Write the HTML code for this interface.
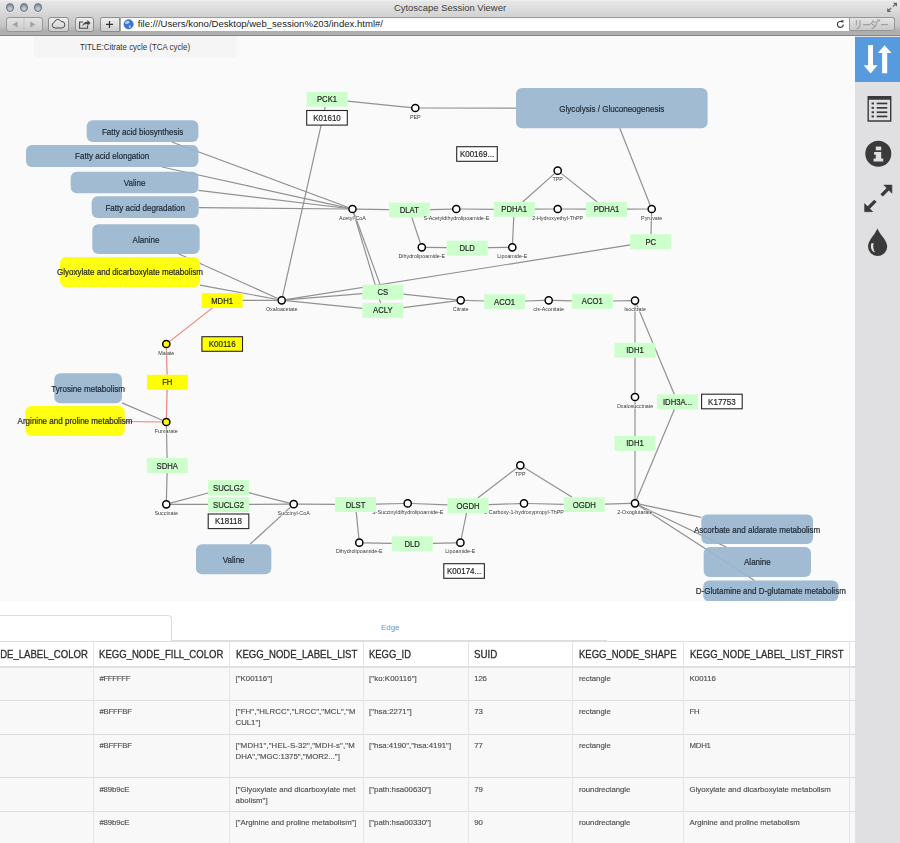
<!DOCTYPE html>
<html>
<head>
<meta charset="utf-8">
<title>Cytoscape Session Viewer</title>
<style>
html,body{margin:0;padding:0;}
body{-webkit-font-smoothing:antialiased;width:900px;height:843px;overflow:hidden;position:relative;background:#fff;font-family:"Liberation Sans",sans-serif;}
#chrome{position:absolute;left:0;top:0;width:900px;height:36.3px;background:linear-gradient(#f2f2f2 0,#e6e6e6 1.5px,#dddddd 9px,#d1d1d1 17px,#c4c4c4 26px,#adadad 31px,#b2b2b2 35px);border-bottom:0.9px solid #858585;box-sizing:border-box;}
#chrome .ttl{position:absolute;left:0;width:900px;top:1px;text-align:center;font-size:9.45px;color:#3c3c3c;line-height:13px;}
.tl{position:absolute;top:3.2px;width:8.6px;height:8.6px;border-radius:50%;background:radial-gradient(circle at 50% 72%,#d0d5dc 0,#aab2be 40%,#858e9b 72%,#747d8a 100%);border:0.9px solid #6c7581;box-sizing:border-box;box-shadow:0 0.6px 0.5px rgba(255,255,255,0.7);}
.btn{position:absolute;top:17px;height:14.5px;border:0.7px solid #8c8c8c;border-radius:3px;background:linear-gradient(#efefef,#cecece);box-sizing:border-box;}
#url{position:absolute;left:119.5px;top:16.6px;width:775px;height:14.6px;border:0.7px solid #a5a5a5;border-top:0.9px solid #9b9b9b;border-bottom:none;border-radius:0 2.5px 2.5px 0;background:linear-gradient(#f4f4f4 0,#fff 2.5px);box-sizing:border-box;}
#url .t{position:absolute;left:17.3px;top:0.1px;font-size:9.55px;line-height:12.5px;color:#222;white-space:nowrap;}
#reader{position:absolute;left:849px;top:17.2px;width:45.5px;height:14px;border:0.7px solid #979797;border-radius:0 2.5px 2.5px 0;background:linear-gradient(#e4e4e4,#c9c9c9);box-sizing:border-box;}
#netbg{position:absolute;left:0;top:36px;width:855px;height:565px;background:#fafafa;}
#titlebox{position:absolute;left:34px;top:36px;width:203px;height:21.5px;background:#f5f5f5;border-radius:0 0 4px 4px;}
#titlebox span{position:absolute;left:46.3px;top:6px;font-size:8.5px;line-height:10px;color:#333;white-space:nowrap;transform-origin:0 50%;transform:scaleX(0.929);}
#net{position:absolute;left:0;top:36px;will-change:transform;}
#side{position:absolute;left:855px;top:36px;width:45px;height:807px;background:#e0e0e2;}
#side .act{position:absolute;left:0;top:1px;width:45px;height:45px;background:#589ade;}
#tabs{position:absolute;left:-10px;top:615px;width:181.5px;height:26px;border:1px solid #ddd;border-bottom:none;border-radius:4px 4px 0 0;box-sizing:border-box;background:#fff;}
#tabline{position:absolute;left:171px;top:640px;width:436px;height:1px;background:#ddd;}
#edge{position:absolute;left:381px;top:623.1px;font-size:7.9px;line-height:10px;color:#6b96d6;}
#tbl{position:absolute;left:0;top:0;width:855px;height:843px;overflow:hidden;will-change:transform;}
#tbl .hbg{position:absolute;left:0;top:641px;width:855px;height:26px;background:#fff;}
#tbl .rbg{position:absolute;left:0;top:667px;width:855px;height:180px;background:#f8f8f8;}
#tbl .hc{position:absolute;font-size:10.7px;line-height:12px;color:#2e2e2e;-webkit-text-stroke:0.3px #2e2e2e;white-space:nowrap;transform-origin:0 50%;}
#tbl .tc{position:absolute;font-size:7.8px;line-height:10px;color:#505050;-webkit-text-stroke:0.15px #505050;white-space:nowrap;}
#tbl .vb{position:absolute;top:641px;width:1.1px;height:210px;background:#e4e4e4;}
#tbl .hb{position:absolute;left:0;width:855px;background:#dfdfdf;}
</style>
</head>
<body>
<div id="netbg"></div>
<div id="titlebox"><span>TITLE:Citrate cycle (TCA cycle)</span></div>
<svg id="net" width="855" height="565" viewBox="0 36 855 565" font-family="Liberation Sans, sans-serif">
<g fill="none" stroke-width="1.2" stroke-linecap="butt">
<line x1="347.4" y1="101.2" x2="411.0" y2="107.6" stroke="#919191"/>
<line x1="419.6" y1="108.0" x2="516.0" y2="108.1" stroke="#919191"/>
<line x1="325.3" y1="106.7" x2="282.6" y2="296.1" stroke="#919191"/>
<line x1="171.8" y1="142.0" x2="348.5" y2="207.5" stroke="#919191"/>
<line x1="162.1" y1="167.0" x2="348.3" y2="208.1" stroke="#919191"/>
<line x1="198.4" y1="190.3" x2="348.2" y2="208.5" stroke="#919191"/>
<line x1="198.7" y1="207.6" x2="348.2" y2="209.0" stroke="#919191"/>
<line x1="356.8" y1="209.1" x2="388.9" y2="209.6" stroke="#919191"/>
<line x1="429.8" y1="209.6" x2="452.0" y2="209.1" stroke="#919191"/>
<line x1="460.6" y1="209.0" x2="493.8" y2="209.3" stroke="#919191"/>
<line x1="534.7" y1="209.2" x2="553.4" y2="209.0" stroke="#919191"/>
<line x1="562.0" y1="209.0" x2="586.0" y2="209.2" stroke="#919191"/>
<line x1="627.0" y1="209.2" x2="647.4" y2="209.0" stroke="#919191"/>
<line x1="554.5" y1="173.6" x2="522.6" y2="202.0" stroke="#919191"/>
<line x1="561.1" y1="173.4" x2="597.1" y2="202.0" stroke="#919191"/>
<line x1="411.8" y1="217.4" x2="420.4" y2="243.2" stroke="#919191"/>
<line x1="426.1" y1="247.4" x2="446.7" y2="247.7" stroke="#919191"/>
<line x1="487.6" y1="247.7" x2="508.0" y2="247.4" stroke="#919191"/>
<line x1="512.5" y1="243.0" x2="513.8" y2="216.8" stroke="#919191"/>
<line x1="619.8" y1="128.3" x2="650.1" y2="205.0" stroke="#919191"/>
<line x1="651.6" y1="213.3" x2="651.0" y2="234.2" stroke="#919191"/>
<line x1="630.3" y1="244.9" x2="285.9" y2="299.6" stroke="#919191"/>
<line x1="354.0" y1="213.0" x2="380.1" y2="284.6" stroke="#919191"/>
<line x1="353.7" y1="213.1" x2="380.6" y2="302.9" stroke="#919191"/>
<line x1="286.0" y1="299.9" x2="362.4" y2="293.7" stroke="#919191"/>
<line x1="286.0" y1="300.7" x2="362.4" y2="308.3" stroke="#919191"/>
<line x1="403.2" y1="294.2" x2="456.4" y2="299.8" stroke="#919191"/>
<line x1="403.2" y1="307.7" x2="456.4" y2="300.8" stroke="#919191"/>
<line x1="465.0" y1="300.4" x2="484.0" y2="301.0" stroke="#919191"/>
<line x1="525.0" y1="301.0" x2="544.4" y2="300.4" stroke="#919191"/>
<line x1="553.0" y1="300.4" x2="571.8" y2="300.9" stroke="#919191"/>
<line x1="612.8" y1="301.0" x2="630.7" y2="300.7" stroke="#919191"/>
<line x1="635.0" y1="304.9" x2="635.0" y2="342.8" stroke="#919191"/>
<line x1="635.0" y1="357.6" x2="635.0" y2="392.7" stroke="#919191"/>
<line x1="635.0" y1="401.3" x2="635.0" y2="435.9" stroke="#919191"/>
<line x1="635.0" y1="450.8" x2="635.0" y2="499.0" stroke="#919191"/>
<line x1="636.7" y1="304.6" x2="674.4" y2="394.4" stroke="#919191"/>
<line x1="674.4" y1="409.2" x2="636.7" y2="499.3" stroke="#919191"/>
<line x1="630.7" y1="503.4" x2="604.8" y2="504.1" stroke="#919191"/>
<line x1="563.8" y1="504.3" x2="528.3" y2="503.5" stroke="#919191"/>
<line x1="519.7" y1="503.6" x2="488.4" y2="504.7" stroke="#919191"/>
<line x1="447.6" y1="504.8" x2="412.0" y2="503.5" stroke="#919191"/>
<line x1="403.4" y1="503.5" x2="375.9" y2="504.1" stroke="#919191"/>
<line x1="335.1" y1="504.4" x2="298.0" y2="504.2" stroke="#919191"/>
<line x1="516.9" y1="467.9" x2="477.7" y2="498.0" stroke="#919191"/>
<line x1="524.0" y1="467.6" x2="572.2" y2="497.2" stroke="#919191"/>
<line x1="356.2" y1="511.9" x2="358.9" y2="538.4" stroke="#919191"/>
<line x1="363.6" y1="542.8" x2="391.8" y2="543.4" stroke="#919191"/>
<line x1="432.6" y1="543.3" x2="456.1" y2="542.8" stroke="#919191"/>
<line x1="461.3" y1="538.5" x2="466.5" y2="513.0" stroke="#919191"/>
<line x1="289.5" y1="503.1" x2="248.9" y2="492.7" stroke="#919191"/>
<line x1="208.1" y1="493.0" x2="170.5" y2="503.2" stroke="#919191"/>
<line x1="289.4" y1="504.2" x2="248.9" y2="504.4" stroke="#919191"/>
<line x1="208.1" y1="504.4" x2="170.6" y2="504.3" stroke="#919191"/>
<line x1="290.5" y1="507.1" x2="250.0" y2="544.3" stroke="#919191"/>
<line x1="166.4" y1="500.0" x2="167.1" y2="472.9" stroke="#919191"/>
<line x1="167.1" y1="458.1" x2="166.4" y2="426.3" stroke="#919191"/>
<line x1="166.4" y1="417.7" x2="167.1" y2="389.6" stroke="#ee8080"/>
<line x1="167.1" y1="374.8" x2="166.4" y2="348.3" stroke="#ee8080"/>
<line x1="169.7" y1="341.4" x2="212.5" y2="307.9" stroke="#ee8080"/>
<line x1="124.7" y1="421.5" x2="162.0" y2="422.0" stroke="#ee8080"/>
<line x1="242.5" y1="300.4" x2="277.4" y2="300.3" stroke="#919191"/>
<line x1="179.0" y1="254.0" x2="277.8" y2="298.5" stroke="#919191"/>
<line x1="200.0" y1="285.1" x2="277.5" y2="299.5" stroke="#919191"/>
<line x1="122.0" y1="402.9" x2="162.4" y2="420.3" stroke="#919191"/>
<line x1="639.2" y1="504.2" x2="701.3" y2="517.4" stroke="#919191"/>
<line x1="638.9" y1="505.2" x2="726.1" y2="547.0" stroke="#919191"/>
<line x1="638.6" y1="505.6" x2="754.5" y2="580.4" stroke="#919191"/>
</g>
<g font-size="5.36" fill="#333" text-anchor="middle" stroke="#fff" stroke-width="1.2" stroke-opacity="0.75" paint-order="stroke" stroke-linejoin="round">
<text x="407.7" y="513.9">S-Succinyldihydrolipoamide-E</text>
<text x="524.0" y="513.9">3-Carboxy-1-hydroxypropyl-ThPP</text>
</g>
<rect x="86.7" y="120.3" width="111.7" height="21.7" rx="6" ry="6" fill="#99b6cf" fill-opacity="0.93"/>
<rect x="26.0" y="145.0" width="172.4" height="22.0" rx="6" ry="6" fill="#99b6cf" fill-opacity="0.93"/>
<rect x="70.7" y="171.7" width="127.7" height="21.6" rx="6" ry="6" fill="#99b6cf" fill-opacity="0.93"/>
<rect x="91.7" y="196.3" width="107.0" height="21.7" rx="6" ry="6" fill="#99b6cf" fill-opacity="0.93"/>
<rect x="92.3" y="224.2" width="107.4" height="29.8" rx="6" ry="6" fill="#99b6cf" fill-opacity="0.93"/>
<rect x="60.0" y="257.0" width="140.0" height="30.0" rx="6" ry="6" fill="#ffff00" fill-opacity="0.93"/>
<rect x="54.3" y="373.3" width="67.7" height="30.0" rx="6" ry="6" fill="#99b6cf" fill-opacity="0.93"/>
<rect x="25.3" y="406.0" width="99.4" height="30.0" rx="6" ry="6" fill="#ffff00" fill-opacity="0.93"/>
<rect x="196.0" y="544.3" width="75.3" height="30.0" rx="6" ry="6" fill="#99b6cf" fill-opacity="0.93"/>
<rect x="516.0" y="88.0" width="191.6" height="40.3" rx="6" ry="6" fill="#99b6cf" fill-opacity="0.93"/>
<rect x="701.3" y="514.5" width="111.7" height="29.6" rx="6" ry="6" fill="#99b6cf" fill-opacity="0.93"/>
<rect x="703.7" y="547.0" width="107.3" height="30.0" rx="6" ry="6" fill="#99b6cf" fill-opacity="0.93"/>
<rect x="703.2" y="580.4" width="135.2" height="21.1" rx="6" ry="6" fill="#99b6cf" fill-opacity="0.93"/>
<rect x="306.6" y="91.8" width="40.9" height="14.9" fill="#ccffcc"/>
<rect x="306.70" y="110.50" width="40.60" height="14.60" fill="#ffffff" stroke="#262626" stroke-width="1.1"/>
<rect x="456.70" y="146.70" width="40.60" height="14.60" fill="#ffffff" stroke="#262626" stroke-width="1.1"/>
<rect x="388.9" y="202.6" width="40.9" height="14.9" fill="#ccffcc"/>
<rect x="493.8" y="202.0" width="40.9" height="14.9" fill="#ccffcc"/>
<rect x="586.0" y="202.0" width="40.9" height="14.9" fill="#ccffcc"/>
<rect x="630.3" y="234.2" width="40.9" height="14.9" fill="#ccffcc"/>
<rect x="446.7" y="240.7" width="40.9" height="14.9" fill="#ccffcc"/>
<rect x="362.4" y="284.6" width="40.9" height="14.9" fill="#ccffcc"/>
<rect x="362.4" y="302.9" width="40.9" height="14.9" fill="#ccffcc"/>
<rect x="484.1" y="294.2" width="40.9" height="14.9" fill="#ccffcc"/>
<rect x="571.8" y="293.9" width="40.9" height="14.9" fill="#ccffcc"/>
<rect x="614.5" y="342.8" width="40.9" height="14.9" fill="#ccffcc"/>
<rect x="657.0" y="394.4" width="40.9" height="14.9" fill="#ccffcc"/>
<rect x="701.60" y="394.20" width="40.60" height="14.60" fill="#ffffff" stroke="#262626" stroke-width="1.1"/>
<rect x="614.5" y="435.9" width="40.9" height="14.9" fill="#ccffcc"/>
<rect x="563.8" y="497.2" width="40.9" height="14.9" fill="#ccffcc"/>
<rect x="447.6" y="498.1" width="40.9" height="14.9" fill="#ccffcc"/>
<rect x="335.1" y="497.1" width="40.9" height="14.9" fill="#ccffcc"/>
<rect x="391.8" y="536.3" width="40.9" height="14.9" fill="#ccffcc"/>
<rect x="443.80" y="563.70" width="40.60" height="14.60" fill="#ffffff" stroke="#262626" stroke-width="1.1"/>
<rect x="146.9" y="458.1" width="40.9" height="14.9" fill="#ccffcc"/>
<rect x="208.1" y="480.1" width="40.9" height="14.9" fill="#ccffcc"/>
<rect x="208.1" y="497.1" width="40.9" height="14.9" fill="#ccffcc"/>
<rect x="208.20" y="514.00" width="40.60" height="14.60" fill="#ffffff" stroke="#262626" stroke-width="1.1"/>
<rect x="146.9" y="374.8" width="40.9" height="14.9" fill="#ffff00"/>
<rect x="201.7" y="293.1" width="40.9" height="14.9" fill="#ffff00"/>
<rect x="201.90" y="336.70" width="40.60" height="14.60" fill="#ffff00" stroke="#262626" stroke-width="1.1"/>
<circle cx="415.3" cy="108.0" r="3.6" fill="#ffffff" stroke="#000" stroke-width="1.5"/>
<circle cx="557.7" cy="170.7" r="3.6" fill="#ffffff" stroke="#000" stroke-width="1.5"/>
<circle cx="352.5" cy="209.0" r="3.6" fill="#ffffff" stroke="#000" stroke-width="1.5"/>
<circle cx="456.3" cy="209.0" r="3.6" fill="#ffffff" stroke="#000" stroke-width="1.5"/>
<circle cx="557.7" cy="209.0" r="3.6" fill="#ffffff" stroke="#000" stroke-width="1.5"/>
<circle cx="651.7" cy="209.0" r="3.6" fill="#ffffff" stroke="#000" stroke-width="1.5"/>
<circle cx="421.8" cy="247.3" r="3.6" fill="#ffffff" stroke="#000" stroke-width="1.5"/>
<circle cx="512.3" cy="247.3" r="3.6" fill="#ffffff" stroke="#000" stroke-width="1.5"/>
<circle cx="281.7" cy="300.3" r="3.6" fill="#ffffff" stroke="#000" stroke-width="1.5"/>
<circle cx="460.7" cy="300.3" r="3.6" fill="#ffffff" stroke="#000" stroke-width="1.5"/>
<circle cx="548.7" cy="300.3" r="3.6" fill="#ffffff" stroke="#000" stroke-width="1.5"/>
<circle cx="635.0" cy="300.6" r="3.6" fill="#ffffff" stroke="#000" stroke-width="1.5"/>
<circle cx="635.0" cy="397.0" r="3.6" fill="#ffffff" stroke="#000" stroke-width="1.5"/>
<circle cx="635.0" cy="503.3" r="3.6" fill="#ffffff" stroke="#000" stroke-width="1.5"/>
<circle cx="524.0" cy="503.4" r="3.6" fill="#ffffff" stroke="#000" stroke-width="1.5"/>
<circle cx="520.3" cy="465.3" r="3.6" fill="#ffffff" stroke="#000" stroke-width="1.5"/>
<circle cx="407.7" cy="503.4" r="3.6" fill="#ffffff" stroke="#000" stroke-width="1.5"/>
<circle cx="293.7" cy="504.2" r="3.6" fill="#ffffff" stroke="#000" stroke-width="1.5"/>
<circle cx="359.3" cy="542.7" r="3.6" fill="#ffffff" stroke="#000" stroke-width="1.5"/>
<circle cx="460.4" cy="542.7" r="3.6" fill="#ffffff" stroke="#000" stroke-width="1.5"/>
<circle cx="166.3" cy="504.3" r="3.6" fill="#ffffff" stroke="#000" stroke-width="1.5"/>
<circle cx="166.3" cy="422.0" r="3.6" fill="#ffff00" stroke="#000" stroke-width="1.5"/>
<circle cx="166.3" cy="344.0" r="3.6" fill="#ffff00" stroke="#000" stroke-width="1.5"/>
<g font-size="8.5" fill="#262626" text-anchor="middle" stroke="#262626" stroke-width="0.2">
<text transform="translate(142.6,134.60) scale(0.947,1)" fill="#1d2935" stroke="#1d2935">Fatty acid biosynthesis</text>
<text transform="translate(112.2,159.45) scale(0.947,1)" fill="#1d2935" stroke="#1d2935">Fatty acid elongation</text>
<text transform="translate(134.6,185.95) scale(0.947,1)" fill="#1d2935" stroke="#1d2935">Valine</text>
<text transform="translate(145.2,210.60) scale(0.947,1)" fill="#1d2935" stroke="#1d2935">Fatty acid degradation</text>
<text transform="translate(146.0,242.55) scale(0.947,1)" fill="#1d2935" stroke="#1d2935">Alanine</text>
<text transform="translate(130.0,275.45) scale(0.947,1)">Glyoxylate and dicarboxylate metabolism</text>
<text transform="translate(88.2,391.75) scale(0.947,1)" fill="#1d2935" stroke="#1d2935">Tyrosine metabolism</text>
<text transform="translate(75.0,424.45) scale(0.947,1)">Arginine and proline metabolism</text>
<text transform="translate(233.7,562.75) scale(0.947,1)" fill="#1d2935" stroke="#1d2935">Valine</text>
<text transform="translate(611.8,111.60) scale(0.947,1)" fill="#1d2935" stroke="#1d2935">Glycolysis / Gluconeogenesis</text>
<text transform="translate(757.1,532.75) scale(0.947,1)" fill="#1d2935" stroke="#1d2935">Ascorbate and aldarate metabolism</text>
<text transform="translate(757.4,565.45) scale(0.947,1)" fill="#1d2935" stroke="#1d2935">Alanine</text>
<text transform="translate(770.8,594.40) scale(0.947,1)" fill="#1d2935" stroke="#1d2935">D-Glutamine and D-glutamate metabolism</text>
<text transform="translate(327.0,102.25) scale(0.906,1)">PCK1</text>
<text transform="translate(327.0,120.85) scale(0.941,1)">K01610</text>
<text transform="translate(477.0,157.05) scale(0.941,1)">K00169...</text>
<text transform="translate(409.3,213.05) scale(0.906,1)">DLAT</text>
<text transform="translate(514.2,212.45) scale(0.906,1)">PDHA1</text>
<text transform="translate(606.5,212.45) scale(0.906,1)">PDHA1</text>
<text transform="translate(650.8,244.75) scale(0.906,1)">PC</text>
<text transform="translate(467.1,251.15) scale(0.906,1)">DLD</text>
<text transform="translate(382.8,295.05) scale(0.906,1)">CS</text>
<text transform="translate(382.8,313.35) scale(0.906,1)">ACLY</text>
<text transform="translate(504.5,304.65) scale(0.906,1)">ACO1</text>
<text transform="translate(592.3,304.45) scale(0.906,1)">ACO1</text>
<text transform="translate(635.0,353.25) scale(0.906,1)">IDH1</text>
<text transform="translate(677.5,404.85) scale(0.906,1)">IDH3A...</text>
<text transform="translate(721.9,404.55) scale(0.941,1)">K17753</text>
<text transform="translate(635.0,446.45) scale(0.906,1)">IDH1</text>
<text transform="translate(584.3,507.75) scale(0.906,1)">OGDH</text>
<text transform="translate(468.0,508.55) scale(0.906,1)">OGDH</text>
<text transform="translate(355.5,507.55) scale(0.906,1)">DLST</text>
<text transform="translate(412.2,546.85) scale(0.906,1)">DLD</text>
<text transform="translate(464.1,574.05) scale(0.941,1)">K00174...</text>
<text transform="translate(167.3,468.55) scale(0.906,1)">SDHA</text>
<text transform="translate(228.5,490.55) scale(0.906,1)">SUCLG2</text>
<text transform="translate(228.5,507.55) scale(0.906,1)">SUCLG2</text>
<text transform="translate(228.5,524.35) scale(0.941,1)">K18118</text>
<text transform="translate(167.3,385.25) scale(0.906,1)">FH</text>
<text transform="translate(222.1,303.55) scale(0.906,1)">MDH1</text>
<text transform="translate(222.2,347.05) scale(0.941,1)">K00116</text>
</g>
<g font-size="5.36" fill="#333" text-anchor="middle" stroke="#fff" stroke-width="1.2" stroke-opacity="0.75" paint-order="stroke" stroke-linejoin="round">
<text x="415.3" y="118.5">PEP</text>
<text x="557.7" y="181.2">TPP</text>
<text x="352.5" y="219.5">Acetyl-CoA</text>
<text x="456.3" y="219.5">S-Acetyldihydrolipoamide-E</text>
<text x="557.7" y="219.5">2-Hydroxyethyl-ThPP</text>
<text x="651.7" y="219.5">Pyruvate</text>
<text x="421.8" y="257.8">Dihydrolipoamide-E</text>
<text x="512.3" y="257.8">Lipoamide-E</text>
<text x="281.7" y="310.8">Oxaloacetate</text>
<text x="460.7" y="310.8">Citrate</text>
<text x="548.7" y="310.8">cis-Aconitate</text>
<text x="635.0" y="311.1">Isocitrate</text>
<text x="635.0" y="407.5">Oxalosuccinate</text>
<text x="635.0" y="513.8">2-Oxoglutarate</text>
<text x="520.3" y="475.8">TPP</text>
<text x="293.7" y="514.7">Succinyl-CoA</text>
<text x="359.3" y="553.2">Dihydrolipoamide-E</text>
<text x="460.4" y="553.2">Lipoamide-E</text>
<text x="166.3" y="514.8">Succinate</text>
<text x="166.3" y="432.5">Fumarate</text>
<text x="166.3" y="354.5">Malate</text>
</g>
</svg>
<div id="tabs"></div><div id="tabline"></div><div id="edge">Edge</div>
<div id="tbl">
<div class="hbg"></div><div class="rbg"></div>
<div class="hc" style="right:767.4px;top:648.3px;transform-origin:100% 50%;transform:scaleX(0.8947)">KEGG_NODE_LABEL_COLOR</div>
<div class="hc" style="left:99.4px;top:648.3px;transform:scaleX(0.8947)">KEGG_NODE_FILL_COLOR</div>
<div class="hc" style="left:235.6px;top:648.3px;transform:scaleX(0.8960)">KEGG_NODE_LABEL_LIST</div>
<div class="hc" style="left:369.4px;top:648.3px;transform:scaleX(0.8829)">KEGG_ID</div>
<div class="hc" style="left:474.2px;top:648.3px;transform:scaleX(0.9153)">SUID</div>
<div class="hc" style="left:579.0px;top:648.3px;transform:scaleX(0.8872)">KEGG_NODE_SHAPE</div>
<div class="hc" style="left:689.6px;top:648.3px;transform:scaleX(0.8918)">KEGG_NODE_LABEL_LIST_FIRST</div>
<div class="tc" style="left:99.4px;top:673.8px;letter-spacing:-0.318px">#FFFFFF</div>
<div class="tc" style="left:235.6px;top:673.8px;letter-spacing:0.041px">[&quot;K00116&quot;]</div>
<div class="tc" style="left:369.1px;top:673.8px;letter-spacing:0.085px">[&quot;ko:K00116&quot;]</div>
<div class="tc" style="left:474.3px;top:673.8px;letter-spacing:-0.238px">126</div>
<div class="tc" style="left:579.0px;top:673.8px;letter-spacing:-0.043px">rectangle</div>
<div class="tc" style="left:689.6px;top:673.8px;letter-spacing:-0.002px">K00116</div>
<div class="tc" style="left:99.4px;top:707.3px;letter-spacing:-0.215px">#BFFFBF</div>
<div class="tc" style="left:235.6px;top:707.3px;letter-spacing:0.096px">[&quot;FH&quot;,&quot;HLRCC&quot;,&quot;LRCC&quot;,&quot;MCL&quot;,&quot;M</div>
<div class="tc" style="left:235.6px;top:718.0px;letter-spacing:-0.030px">CUL1&quot;]</div>
<div class="tc" style="left:369.1px;top:707.3px;letter-spacing:0.061px">[&quot;hsa:2271&quot;]</div>
<div class="tc" style="left:474.3px;top:707.3px;letter-spacing:-0.188px">73</div>
<div class="tc" style="left:579.0px;top:707.3px;letter-spacing:-0.043px">rectangle</div>
<div class="tc" style="left:689.6px;top:707.3px;letter-spacing:-0.349px">FH</div>
<div class="tc" style="left:99.4px;top:740.8px;letter-spacing:-0.215px">#BFFFBF</div>
<div class="tc" style="left:235.6px;top:740.8px;letter-spacing:0.143px">[&quot;MDH1&quot;,&quot;HEL-S-32&quot;,&quot;MDH-s&quot;,&quot;M</div>
<div class="tc" style="left:235.6px;top:751.5px;letter-spacing:0.028px">DHA&quot;,&quot;MGC:1375&quot;,&quot;MOR2...&quot;]</div>
<div class="tc" style="left:369.1px;top:740.8px;letter-spacing:0.010px">[&quot;hsa:4190&quot;,&quot;hsa:4191&quot;]</div>
<div class="tc" style="left:474.3px;top:740.8px;letter-spacing:-0.188px">77</div>
<div class="tc" style="left:579.0px;top:740.8px;letter-spacing:-0.043px">rectangle</div>
<div class="tc" style="left:689.6px;top:740.8px;letter-spacing:-0.276px">MDH1</div>
<div class="tc" style="left:99.4px;top:784.8px;letter-spacing:-0.113px">#89b9cE</div>
<div class="tc" style="left:235.6px;top:784.8px;letter-spacing:0.005px">[&quot;Glyoxylate and dicarboxylate met</div>
<div class="tc" style="left:235.6px;top:795.5px;letter-spacing:0.021px">abolism&quot;]</div>
<div class="tc" style="left:369.1px;top:784.8px;letter-spacing:0.030px">[&quot;path:hsa00630&quot;]</div>
<div class="tc" style="left:474.3px;top:784.8px;letter-spacing:-0.188px">79</div>
<div class="tc" style="left:579.0px;top:784.8px;letter-spacing:-0.053px">roundrectangle</div>
<div class="tc" style="left:689.6px;top:784.8px;letter-spacing:-0.012px">Glyoxylate and dicarboxylate metabolism</div>
<div class="tc" style="left:99.4px;top:818.3px;letter-spacing:-0.113px">#89b9cE</div>
<div class="tc" style="left:235.6px;top:818.3px;letter-spacing:-0.009px">[&quot;Arginine and proline metabolism&quot;]</div>
<div class="tc" style="left:369.1px;top:818.3px;letter-spacing:0.030px">[&quot;path:hsa00330&quot;]</div>
<div class="tc" style="left:474.3px;top:818.3px;letter-spacing:-0.188px">90</div>
<div class="tc" style="left:579.0px;top:818.3px;letter-spacing:-0.053px">roundrectangle</div>
<div class="tc" style="left:689.6px;top:818.3px;letter-spacing:-0.037px">Arginine and proline metabolism</div>
<div class="hb" style="top:640.9px;height:1.2px"></div>
<div class="hb" style="top:665.85px;height:1.7px"></div>
<div class="hb" style="top:699.55px;height:1.3px"></div>
<div class="hb" style="top:733.55px;height:1.3px"></div>
<div class="hb" style="top:777.05px;height:1.3px"></div>
<div class="hb" style="top:810.75px;height:1.3px"></div>
<div class="vb" style="left:92.90px"></div>
<div class="vb" style="left:228.90px"></div>
<div class="vb" style="left:362.80px"></div>
<div class="vb" style="left:467.60px"></div>
<div class="vb" style="left:572.40px"></div>
<div class="vb" style="left:682.80px"></div>
<div class="vb" style="left:849.00px"></div>
</div>
<div id="side"><div class="act"></div>
<svg width="45" height="807" viewBox="855 36 45 807" style="position:absolute;left:0;top:0">
<!-- sort arrows -->
<g fill="#fff">
<rect x="868.1" y="45.1" width="4.9" height="21"/><path d="M863.7 65.2 L877.6 65.2 L870.6 73.5 Z"/>
<rect x="882.1" y="52" width="5.1" height="21.3"/><path d="M877.8 52.9 L891.5 52.9 L884.6 45.3 Z"/>
</g>
<!-- list -->
<g fill="#3a3a3a">
<path fill-rule="evenodd" d="M867.5 95.9 h23.9 v25.8 h-23.9 Z M868.9 99.7 v20.6 h21.1 v-20.6 Z"/>
<rect x="871.6" y="102.5" width="2.4" height="1.9"/><rect x="876.7" y="102.6" width="10.6" height="1.7"/>
<rect x="871.6" y="106.9" width="2.4" height="1.9"/><rect x="876.7" y="107" width="10.6" height="1.7"/>
<rect x="871.6" y="111.3" width="2.4" height="1.9"/><rect x="876.7" y="111.4" width="10.6" height="1.7"/>
<rect x="871.6" y="115.5" width="2.4" height="1.9"/><rect x="876.7" y="115.6" width="10.6" height="1.7"/>
</g>
<!-- info -->
<circle cx="878.3" cy="153.8" r="13" fill="#3a3a3a"/>
<g fill="#e0e0e2"><rect x="875.8" y="146.6" width="5.4" height="3.7"/><path d="M874.1 151.9 h7.1 v6.7 h2 v3 h-9.6 v-3 h2.2 v-3.9 h-1.7 Z"/></g>
<!-- resize arrows -->
<g fill="#3a3a3a" stroke="#3a3a3a">
<path d="M883.8 185.1 h8.1 v8.1 Z" stroke-width="0.6"/>
<path d="M864.6 211.7 h8.1 L864.6 203.6 Z" stroke-width="0.6"/>
<line x1="888.6" y1="188.4" x2="881.6" y2="195.4" stroke-width="3.4"/>
<line x1="867.9" y1="208.4" x2="875.4" y2="200.9" stroke-width="3.4"/>
</g>
<!-- drop -->
<path d="M877.4 228.6 C 880 235, 887.2 240.5, 887.2 246.6 A 9.6 9.4 0 0 1 868 246.6 C 868 240.5, 874.8 235, 877.4 228.6 Z" fill="#3a3a3a"/>
<path d="M871.2 243.4 C 870.2 248, 871.8 251.4, 875 252.2 C 873.2 249.8, 872.8 246.6, 873.6 243 Z" fill="#e0e0e2"/>
</svg>
</div>
<div id="chrome">
<div class="ttl">Cytoscape Session Viewer</div>
<div class="tl" style="left:5.6px"></div><div class="tl" style="left:19.5px"></div><div class="tl" style="left:33.6px"></div>
<div class="btn" style="left:5.5px;width:37px;background:linear-gradient(#e3e3e3,#cbcbcb);border-color:#979797"></div>
<div class="btn" style="left:48px;width:20.5px"></div>
<div class="btn" style="left:74.5px;width:19px"></div>
<div class="btn" style="left:99.5px;width:20.5px;border-radius:2.5px 0 0 2.5px"></div>
<div id="url"><span class="t">file:///Users/kono/Desktop/web_session%203/index.html#/</span></div>
<div id="reader"></div>
<svg width="900" height="36" viewBox="0 0 900 36" style="position:absolute;left:0;top:0">
<!-- back/fwd -->
<line x1="24" y1="18.5" x2="24" y2="30" stroke="#b5b5b5" stroke-width="0.6"/>
<path d="M17.6 21.4 L17.6 27.6 L12.4 24.5 Z" fill="#a3a3a3"/>
<path d="M30.2 21.4 L30.2 27.6 L35.4 24.5 Z" fill="#a3a3a3"/>
<!-- cloud -->
<path d="M55 28 a2.9 2.9 0 0 1 -0.6 -5.7 a3.5 3.5 0 0 1 6.6 -0.9 a3.3 3.3 0 0 1 1 6.6 Z" fill="none" stroke="#4a4a4a" stroke-width="1"/>
<!-- share -->
<path d="M83 22 h-3.4 v6.2 h8 v-2.6" fill="none" stroke="#4a4a4a" stroke-width="1.1"/>
<path d="M82.4 26.4 c0.4 -3 2 -4.6 5 -4.6 v-1.8 l3.2 2.9 l-3.2 2.9 v-1.8 c-2.2 -0.1 -3.8 0.6 -5 2.4 Z" fill="#4a4a4a"/>
<!-- plus -->
<path d="M106 24.4 h7 M109.5 20.9 v7" stroke="#333" stroke-width="1.2" fill="none"/>
<!-- globe -->
<circle cx="128.6" cy="24.3" r="4.6" fill="#3c76d4"/>
<circle cx="128.6" cy="24.3" r="4.6" fill="none" stroke="#2a55a8" stroke-width="0.6"/>
<path d="M126 21.4 c1.4 -1 3 -0.6 3.6 0.4 c0.4 1 -0.8 1.6 -1.8 2 c-1 0.4 -1.8 -0.4 -2.6 0.2 c-0.4 -1 0 -2 0.8 -2.6 Z M129 25.6 c1 -0.4 2 0.2 2 1 c0 0.8 -1 1.6 -1.8 1.6 c-0.4 -0.8 -0.6 -1.8 -0.2 -2.6 Z" fill="#a9d0f5"/>
<!-- reload -->
<path d="M843.4 24.6 a3 3 0 1 1 -1.2 -2.6" fill="none" stroke="#444" stroke-width="1.2"/>
<path d="M841 20 l2.8 0.6 l-0.8 2.6 Z" fill="#444"/>
<!-- reader text (katakana-ish) -->
<g stroke="#a0a0a0" stroke-width="1.2" fill="none" stroke-linecap="round">
<path d="M856.4 20.6 v4.2 M860 20.4 v4.6 c0 2 -1 3 -3 3.6"/>
<path d="M863.4 24.6 h6.2"/>
<path d="M873 20.6 c-0.4 1.6 -1.2 2.6 -2.4 3.4 M873 22 h4 c-0.4 3.4 -2 5.4 -5 6.6 M872.6 24.4 l2.4 1.6 M877.4 20 l0.8 1.2 M879 19.6 l0.8 1.2"/>
<path d="M881.4 24.6 h6.2"/>
</g>
<!-- fullscreen icon -->
<g transform="translate(4.2,0.3)"><g fill="#666"><path d="M888.8 2.4 h4 v4 Z"/><path d="M887 11.6 h-4 v-4 Z"/></g>
<g stroke="#666" stroke-width="1.2"><line x1="891.6" y1="3.6" x2="888.8" y2="6.4"/><line x1="884.2" y1="10.4" x2="887" y2="7.6"/></g></g>
</svg>
</div>
</body>
</html>
